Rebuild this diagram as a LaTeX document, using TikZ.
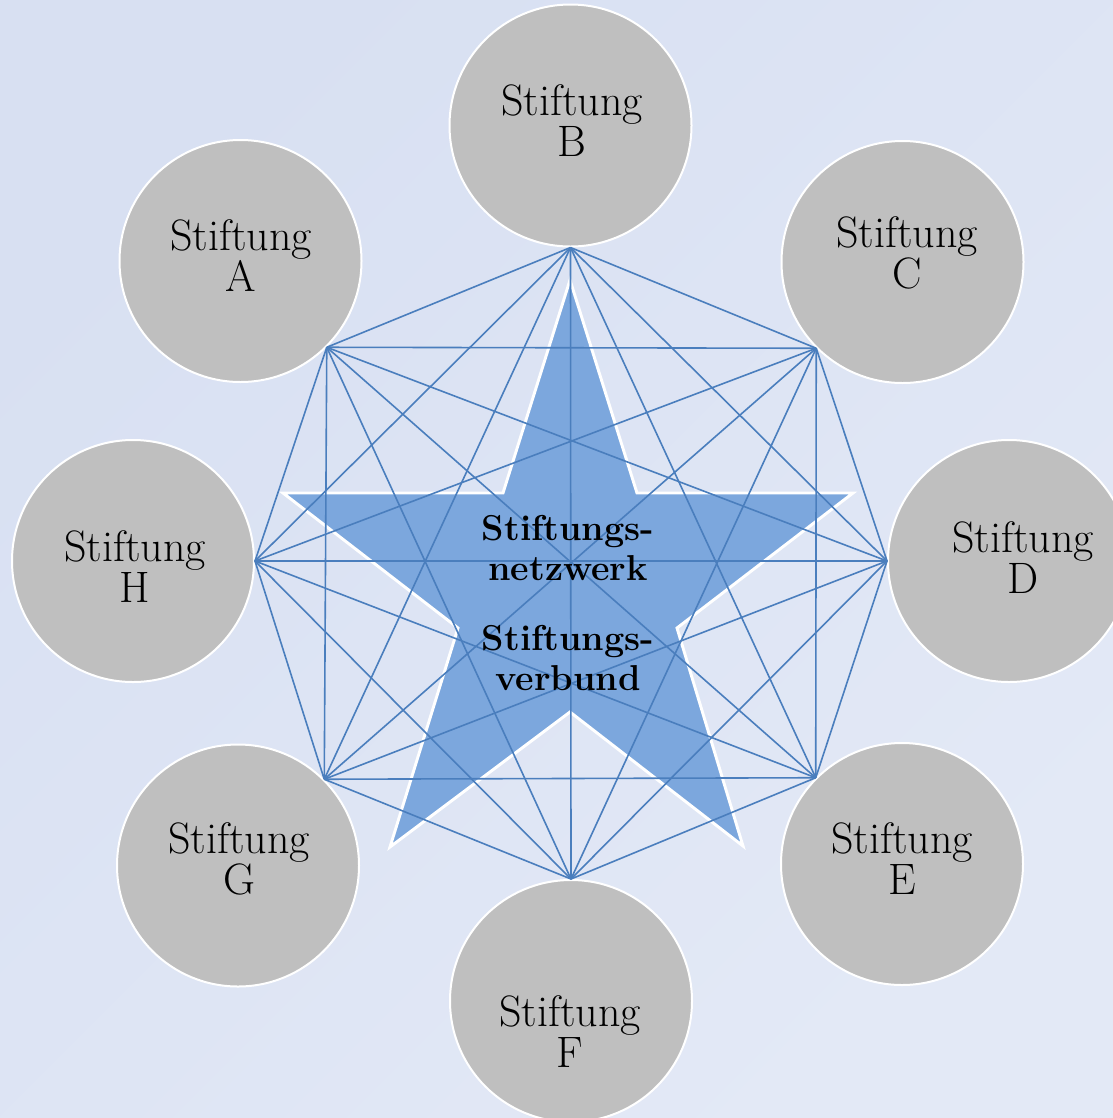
\documentclass[tikz,border=0pt]{standalone}
\usepackage{fontspec}
\usetikzlibrary{calc}
\definecolor{bgA}{RGB}{216,224,242}
\definecolor{bgC}{RGB}{227,233,246}
\definecolor{disc}{RGB}{191,191,191}
\definecolor{linkblue}{RGB}{74,126,189}
\definecolor{starblue}{RGB}{124,167,221}
\tikzset{
  foundation/.style={circle, fill=disc, draw=white, line width=1.5pt,
    minimum size=181.5pt, inner sep=0pt},
  % anchor=base sits on the baseline of the last line
  lbl/.style={align=center, anchor=base, inner sep=0pt,
    font=\fontsize{33}{30.75}\selectfont},
  core/.style={align=center, anchor=base, inner sep=0pt,
    font=\fontsize{27}{30}\selectfont\bfseries},
  link/.style={draw=linkblue, line width=1.2pt},
  starshape/.style={fill=starblue, draw=white, line width=2.2pt, line join=miter}
}
\begin{document}
\begin{tikzpicture}[x=0.75pt, y=-0.75pt]
  \useasboundingbox (0,0) rectangle (1113,1118);
  \begin{scope}
    \clip (0,0) rectangle (1113,1118);
    % background
    \shade[top color=bgA, bottom color=bgC, shading angle=45]
      (0,0) rectangle (1113,1118);

    % the eight foundations
    \node[foundation] (A) at (240.5,261) {};
    \node[foundation] (B) at (570.5,125.5) {};
    \node[foundation] (C) at (902.5,262) {};
    \node[foundation] (D) at (1009,561) {};
    \node[foundation] (E) at (902,864) {};
    \node[foundation] (F) at (571,1001) {};
    \node[foundation] (G) at (238,865.5) {};
    \node[foundation] (H) at (133,561) {};

    \node[lbl] (tA) at (241,291) {Stiftung\\A};
    \node[lbl] (tB) at (572,156) {Stiftung\\B};
    \node[lbl] (tC) at (907,288) {Stiftung\\C};
    \node[lbl] (tD) at (1023,593) {Stiftung\\D};
    \node[lbl] (tE) at (902,894) {Stiftung\\E};
    \node[lbl] (tF) at (570,1067) {Stiftung\\F};
    \node[lbl] (tG) at (239,894) {Stiftung\\G};
    \node[lbl] (tH) at (135,602) {Stiftung\\H};

    % central star
    \draw[starshape]
      (570,280) -- (637,493) -- (853,493) -- (677,628) -- (743,846)
      -- (570,712) -- (390,847) -- (458,628) -- (283,493) -- (503,493) -- cycle;

    % docking points of the network
    \coordinate (pA) at (A.south east);
    \coordinate (pB) at (B.south);
    \coordinate (pC) at (C.south west);
    \coordinate (pD) at (D.west);
    \coordinate (pE) at (E.north west);
    \coordinate (pF) at (F.north);
    \coordinate (pG) at (G.north east);
    \coordinate (pH) at (H.east);

    % every foundation linked with every other one
    \foreach \u [count=\i] in {pA,pB,pC,pD,pE,pF,pG,pH} {
      \foreach \v [count=\j] in {pA,pB,pC,pD,pE,pF,pG,pH} {
        \ifnum\j>\i \draw[link] (\u) -- (\v); \fi
      }
    }

    \node[core] (net) at (568,580) {Stiftungs-\\netzwerk};
    \node[core] (verb) at (568,690) {Stiftungs-\\verbund};
  \end{scope}
\end{tikzpicture}
\end{document}
